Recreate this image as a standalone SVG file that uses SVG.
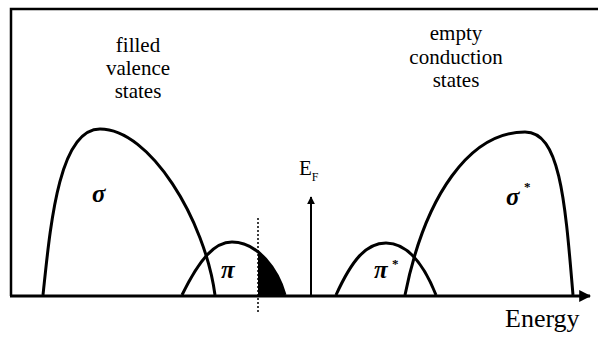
<svg xmlns="http://www.w3.org/2000/svg" width="598" height="341" viewBox="0 0 598 341">
<style>
.band{fill:none;stroke:#000;stroke-width:3;stroke-linejoin:round}
text{font-family:'Liberation Serif','Times New Roman',serif;fill:#000}
.cap{font-size:21px;text-anchor:middle}
.greek{font-size:25px;font-style:italic;font-weight:bold}
.star{font-size:13px;font-weight:bold}
</style>
<defs>
<marker id="ah" viewBox="0 0 10 10" refX="9" refY="5" markerWidth="4" markerHeight="4" orient="auto" markerUnits="strokeWidth">
<path d="M0,0 L10,5 L0,10 z" fill="#000"/>
</marker>
<clipPath id="fillClip"><rect x="258" y="200" width="40" height="96"/></clipPath>
</defs>
<rect width="598" height="341" fill="#fff"/>
<g id="frame">
<path d="M11,296 L11,9 L598,9" fill="none" stroke="#000" stroke-width="2.5"/>
</g>
<g id="connectors">
<line x1="10" y1="296" x2="590" y2="296" stroke="#000" stroke-width="3" marker-end="url(#ah)"/>
<line x1="311" y1="295" x2="311" y2="197" stroke="#000" stroke-width="2" marker-end="url(#ah)"/>
<line x1="258" y1="218" x2="258" y2="312" stroke="#000" stroke-width="1.5" stroke-dasharray="2,2"/>
</g>
<g id="sigma">
<path class="band" d="M43,295 C50,230 58,129 100,129 C150,129 205,220 215,295"/>
<text class="greek" x="92" y="202">σ</text>
</g>
<g id="pi">
<path d="M182,295 C200,258 215,242 232,242 C258,242 278,270 285,295 Z" fill="#000" clip-path="url(#fillClip)"/>
<path class="band" d="M182,295 C200,258 215,242 232,242 C258,242 278,270 285,295"/>
<text class="greek" x="221" y="278">π</text>
</g>
<g id="pistar">
<path class="band" d="M336,295 C352,260 366,243 386,243 C406,243 422,260 436,295"/>
<text class="greek" x="374" y="278">π</text>
<text class="star" x="392" y="268">*</text>
</g>
<g id="sigmastar">
<path class="band" d="M405,295 C425,195 470,132 525,132 C560,132 565,200 573,295"/>
<text class="greek" x="506" y="205">σ</text>
<text class="star" x="524" y="191">*</text>
</g>
<g id="fermi">
<text x="299" y="175" font-size="21">E<tspan font-size="12" dy="6">F</tspan></text>
</g>
<g id="valence">
<text class="cap" x="138" y="52">filled</text>
<text class="cap" x="138" y="75">valence</text>
<text class="cap" x="138" y="98">states</text>
</g>
<g id="conduction">
<text class="cap" x="456" y="40">empty</text>
<text class="cap" x="456" y="64">conduction</text>
<text class="cap" x="456" y="87">states</text>
</g>
<g id="energy">
<text x="505" y="327" font-size="26">Energy</text>
</g>
</svg>
